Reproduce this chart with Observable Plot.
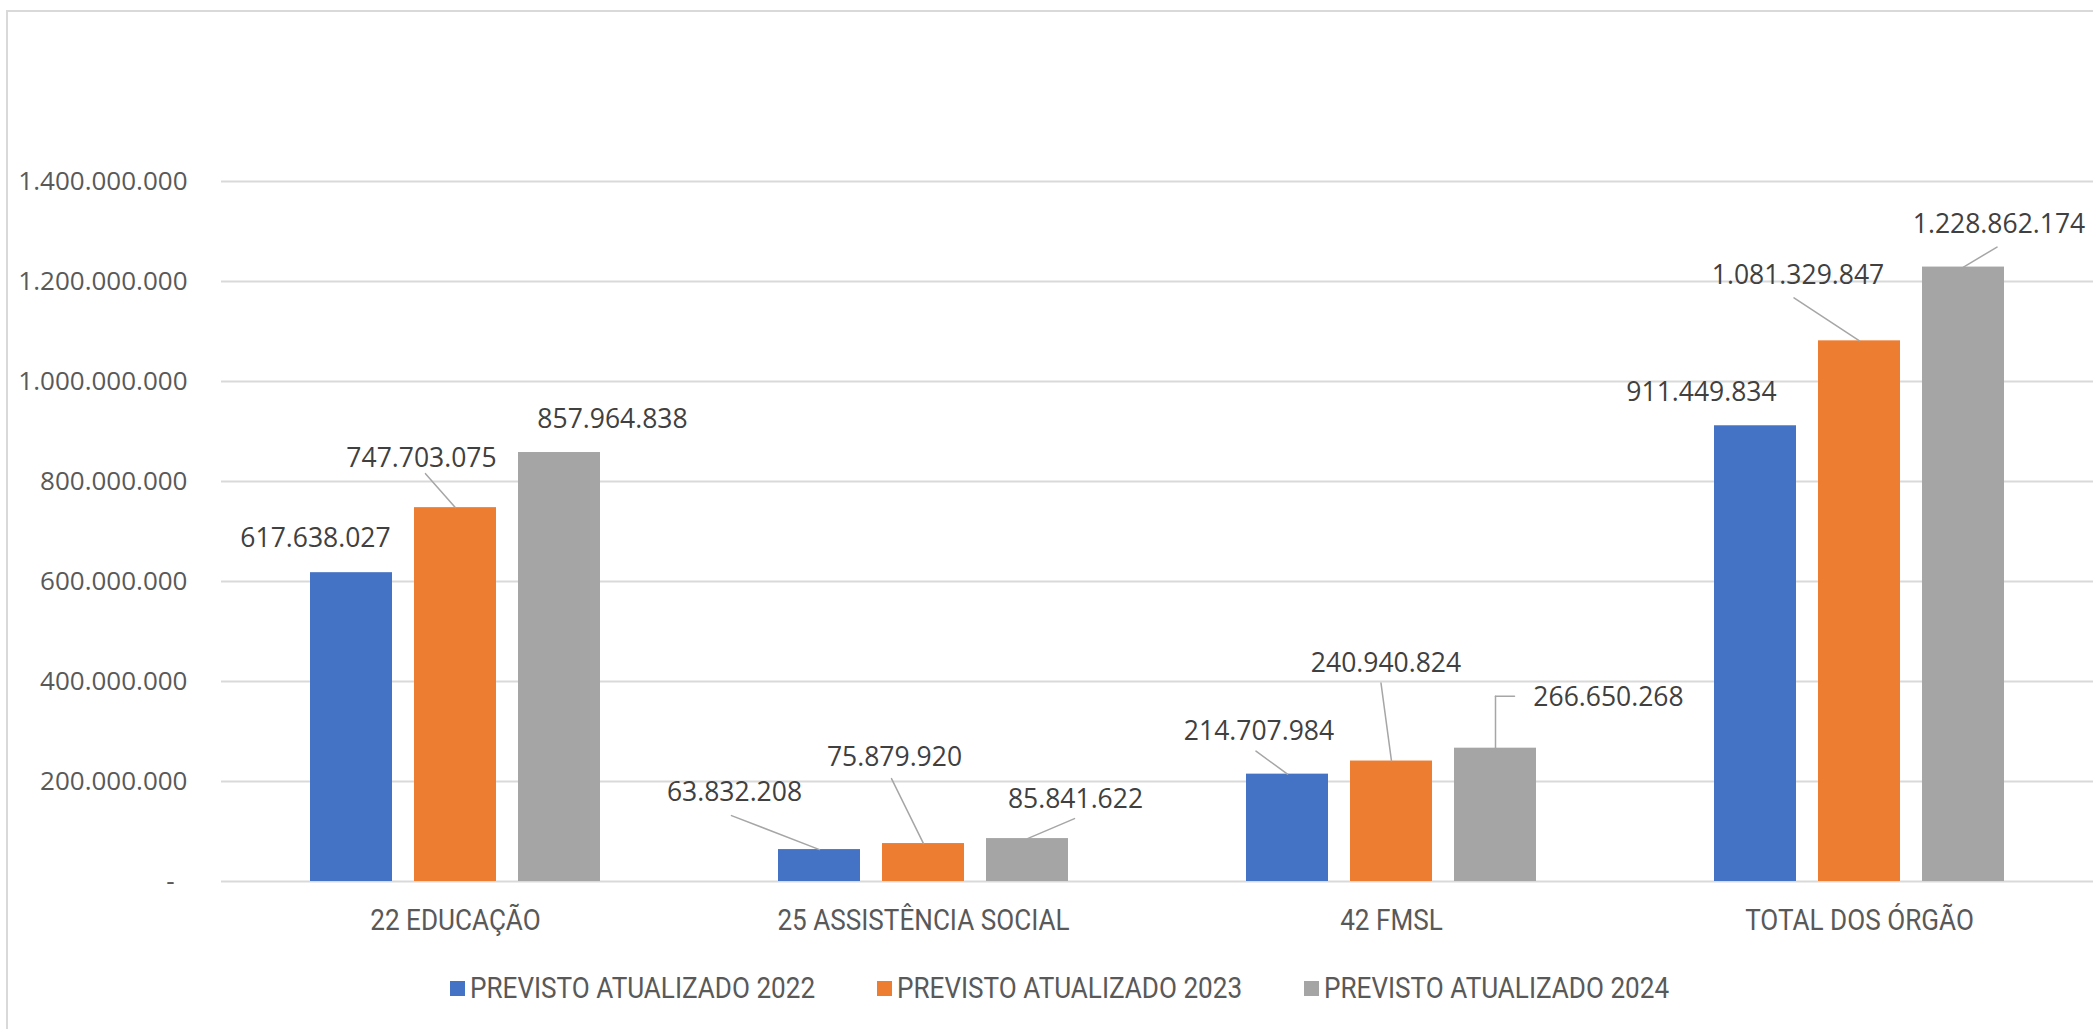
<!DOCTYPE html>
<html>
<head>
<meta charset="utf-8">
<script src="https://cdn.jsdelivr.net/npm/d3@7"></script>
<script src="https://cdn.jsdelivr.net/npm/@observablehq/plot@0.6"></script>
<style>
  html, body { margin: 0; padding: 0; background: #fff; }
  #wrap { position: relative; width: 2093px; height: 1029px; overflow: hidden; background: #fff; }
  #frame { position: absolute; left: 6px; top: 10px; width: 2300px; height: 1200px;
           border-left: 2.5px solid #d9d9d9; border-top: 2px solid #d9d9d9; box-sizing: border-box; }
  #chart { position: absolute; left: 0; top: 0; }
  #legend { position: absolute; left: 450px; top: 971px; display: flex; }
  .item { width: 427px; display: flex; align-items: center; height: 34px; }
  .sw { width: 15px; height: 15px; margin-right: 5px; flex: none; }
  .lab { font-family: "Liberation Sans Narrow", "Roboto", sans-serif; font-size: 29px; color: #595959; line-height: 34px;
         white-space: nowrap; display: inline-block; transform: scaleX(0.9); transform-origin: 0 50%; }
</style>
</head>
<body>
<div id="wrap">
  <div id="frame"></div>
  <div id="chart"></div>
  <div id="legend"></div>
</div>
<script>
// ---- data ----
const categories = ["22 EDUCAÇÃO", "25 ASSISTÊNCIA SOCIAL", "42 FMSL", "TOTAL DOS ÓRGÃO"];
const series = ["PREVISTO ATUALIZADO 2022", "PREVISTO ATUALIZADO 2023", "PREVISTO ATUALIZADO 2024"];
const values2022 = [617638027, 63832208, 214707984, 911449834];
const values2023 = [747703075, 75879920, 240940824, 1081329847];
const values2024 = [857964838, 85841622, 266650268, 1228862174];
const yTicks = [0, 200000000, 400000000, 600000000, 800000000, 1000000000, 1200000000, 1400000000];

// ---- styles ----
const colors = ["#4472C4", "#ED7D31", "#A5A5A5"];
const barShift = [-104, 0, 104];
// label centre offsets (px) from bar-top centre, per series / category
const labelOffsets = [
  [[-36, -34], [-85, -57], [-28.5, -43], [-54, -33]],
  [[-34, -49], [-29, -86], [-5.5, -98], [-61.5, -65]],
  [[53, -33], [48, -39], [113, -51], [35.5, -43]]
];
// leader line polylines (px) from bar-top centre
const leaderPaths = [
  [null, [[0, 0], [-88, -34]], [[0, 0], [-31.5, -23]], null],
  [[[0, 0], [-30, -34]], [[0, 0], [-32, -65]], [[0, 0], [-10.5, -78]], [[0, 0], [-65.5, -43]]],
  [null, [[0, 0], [47, -20]], [[0, 0], [0, -52], [19, -52]], [[0, 0], [33.5, -20]]]
];

const seriesValues = [values2022, values2023, values2024];
const rows = series.flatMap((s, i) => categories.map((c, j) => ({cat: c, series: s, si: i, ci: j, value: seriesValues[i][j]})));

const locale = d3.formatLocale({decimal: ",", thousands: ".", grouping: [3], currency: ["", ""]});
const fmt = locale.format(",d");
const tickFmt = v => v === 0 ? "-\u2002" : fmt(v);

const lineShape = { draw(ctx, l) { ctx.moveTo(0, 0); ctx.lineTo(0, -l); } };

const leaderMarks = [];
rows.forEach(r => {
  const path = leaderPaths[r.si][r.ci];
  if (!path) return;
  for (let k = 0; k < path.length - 1; k++) {
    const [x0, y0] = path[k], [x1, y1] = path[k + 1];
    const ex = x1 - x0, ey = y1 - y0;
    leaderMarks.push(Plot.vector([r], {
      x: "cat", y: "value", dx: barShift[r.si] + x0, dy: y0,
      length: Math.hypot(ex, ey), rotate: Math.atan2(ex, -ey) * 180 / Math.PI,
      anchor: "start", shape: lineShape, stroke: "#a6a6a6", strokeWidth: 1.5
    }));
  }
});

const labelMarks = rows.map(r => Plot.text([r], {
  x: "cat", y: "value", text: d => fmt(d.value),
  dx: barShift[r.si] + labelOffsets[r.si][r.ci][0], dy: labelOffsets[r.si][r.ci][1],
  fontSize: 26.5, fontFamily: "Open Sans", fill: "#404040"
}));

const chart = Plot.plot({
  width: 2093, height: 941,
  marginTop: 181, marginBottom: 60, marginLeft: 221, marginRight: 0,
  x: {domain: categories, paddingInner: 0.381, paddingOuter: 0.1905},
  y: {domain: [0, 1400000000]},
  color: {domain: series, range: colors},
  style: {background: "transparent", color: "#595959", fontFamily: "Open Sans", overflow: "visible"},
  marks: [
    Plot.ruleY(yTicks, {stroke: "#d9d9d9", strokeWidth: 2}),
    Plot.axisY({ticks: yTicks, tickSize: 0, tickPadding: 34, tickFormat: tickFmt, fontSize: 26, fontFamily: "Open Sans", label: null}),
    Plot.axisX({tickSize: 0, tickPadding: 28, fontSize: 29, fontFamily: "Liberation Sans Narrow, Roboto, sans-serif", label: null}),
    ...series.map((s, i) => Plot.barY(rows.filter(r => r.si === i), {
      x: "cat", y: "value", fill: "series", dx: barShift[i], insetLeft: 104, insetRight: 104
    })),
    ...leaderMarks,
    ...labelMarks
  ]
});
document.getElementById("chart").appendChild(chart);

// condense category labels (narrow face, like the original)
chart.querySelectorAll("text").forEach(t => {
  if (!categories.includes(t.textContent)) return;
  const len = t.getComputedTextLength();
  t.setAttribute("textLength", (len * 0.9).toFixed(1));
  t.setAttribute("lengthAdjust", "spacingAndGlyphs");
});

// legend
const legend = document.getElementById("legend");
series.forEach((s, i) => {
  const item = document.createElement("div");
  item.className = "item";
  const sw = document.createElement("div");
  sw.className = "sw";
  sw.style.background = colors[i];
  const lab = document.createElement("span");
  lab.className = "lab";
  lab.textContent = s;
  item.appendChild(sw);
  item.appendChild(lab);
  legend.appendChild(item);
});
</script>
</body>
</html>
